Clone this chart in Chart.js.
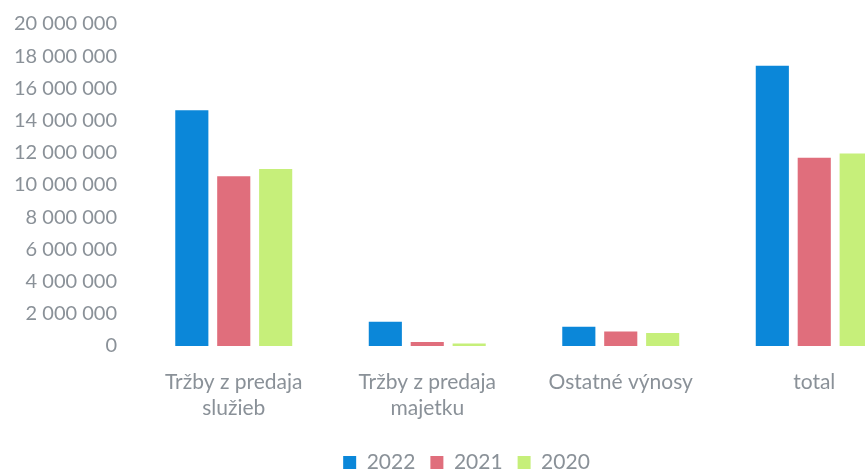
<!DOCTYPE html>
<html>
<head>
<meta charset="utf-8">
<script src="https://cdn.jsdelivr.net/npm/chart.js@4/dist/chart.umd.min.js"></script>
<style>
  html, body { margin: 0; padding: 0; background: #ffffff; overflow: hidden; }
  #wrap { width: 934px; height: 474px; }
</style>
</head>
<body>
<div id="wrap"><canvas id="graf"></canvas></div>
<script>
// kategorie a hodnoty (odcitane z grafu)
var kategorie = [['Tržby z predaja', 'služieb'], ['Tržby z predaja', 'majetku'], 'Ostatné výnosy', 'total'];
var roky = ['2022', '2021', '2020'];
var hodnoty2022 = [14650000, 1500000, 1200000, 17400000];
var hodnoty2021 = [10550000, 250000, 900000, 11700000];
var hodnoty2020 = [11000000, 150000, 800000, 11950000];
var farby = ['#0b87d9', '#e06e7c', '#c6ef7a'];

Chart.defaults.font.family = "Lato, 'Open Sans', sans-serif";
Chart.defaults.color = "#8a9198";

// posun legendy nizsie a doprava
var posunLegendy = {
  id: "posunLegendy",
  afterLayout: function (chart) {
    chart.legend.top += 9;
    chart.legend.bottom += 9;
    chart.legend.left += 11;
    chart.legend.right += 11;
  }
};

var ctx = document.getElementById("graf").getContext("2d");
var graf = new Chart(ctx, {
  type: "bar",
  data: {
    labels: kategorie,
    datasets: [
      { label: roky[0], data: hodnoty2022, backgroundColor: farby[0] },
      { label: roky[1], data: hodnoty2021, backgroundColor: farby[1] },
      { label: roky[2], data: hodnoty2020, backgroundColor: farby[2] }
    ]
  },
  options: {
    responsive: true,
    maintainAspectRatio: false,
    animation: false,
    layout: { padding: { left: 0, right: 23, top: 0, bottom: 0 } },
    datasets: { bar: { categoryPercentage: 0.65, barPercentage: 0.79 } },
    plugins: {
      legend: {
        position: "bottom",
        labels: { boxWidth: 13, boxHeight: 13, padding: 15, font: { size: 21 }, color: "#8a9198" }
      },
      tooltip: { enabled: false }
    },
    scales: {
      x: {
        grid: { display: false },
        border: { display: false },
        afterFit: function (s) { s.height = 82; },
        ticks: { font: { size: 21, lineHeight: 1.2 }, padding: 16, maxRotation: 0 }
      },
      y: {
        min: 0,
        max: 20000000,
        grid: { display: false },
        border: { display: false },
        afterFit: function (s) { s.width = 137; },
        ticks: {
          stepSize: 2000000,
          padding: 12,
          font: { size: 20 },
          callback: function (v) { return v.toString().replace(/\B(?=(\d{3})+(?!\d))/g, " "); }
        }
      }
    }
  },
  plugins: [posunLegendy]
});
</script>
</body>
</html>
